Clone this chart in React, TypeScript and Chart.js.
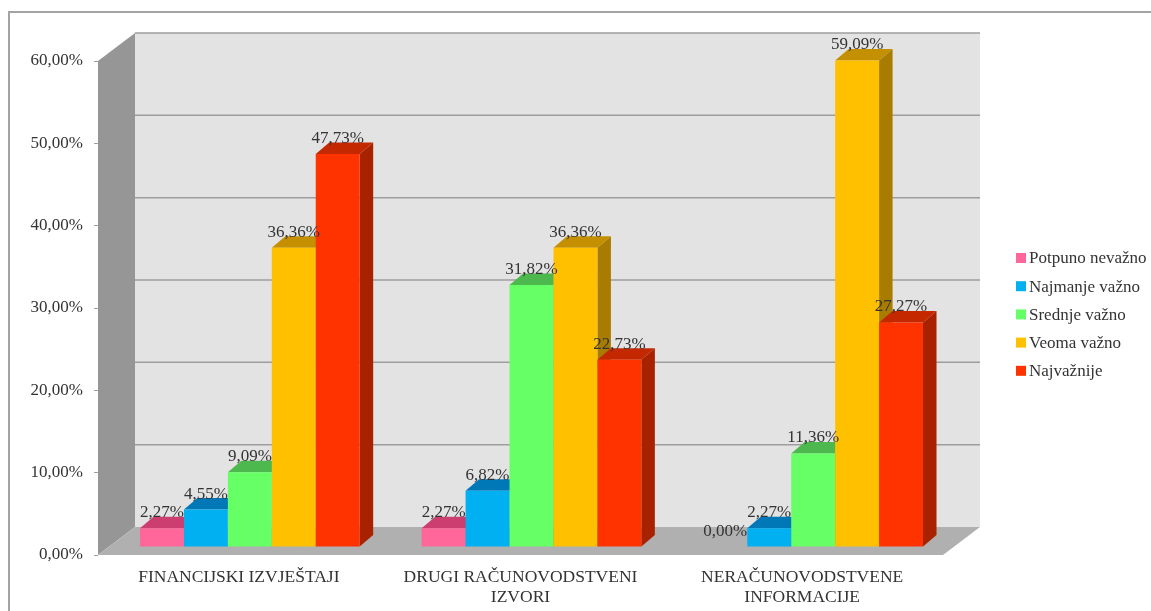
import React, { useEffect, useRef } from "react";
import { Chart, registerables } from "chart.js";

Chart.register(...registerables);

const categories: (string | string[])[] = [
  "FINANCIJSKI IZVJEŠTAJI",
  ["DRUGI RAČUNOVODSTVENI", "IZVORI"],
  ["NERAČUNOVODSTVENE", "INFORMACIJE"],
];
const seriesNames = ["Potpuno nevažno", "Najmanje važno", "Srednje važno", "Veoma važno", "Najvažnije"];
const potpunoNevazno = [2.27, 2.27, 0];
const najmanjeVazno = [4.55, 6.82, 2.27];
const srednjeVazno = [9.09, 31.82, 11.36];
const veomaVazno = [36.36, 36.36, 59.09];
const najvaznije = [47.73, 22.73, 27.27];
const seriesValues = [potpunoNevazno, najmanjeVazno, srednjeVazno, veomaVazno, najvaznije];
const frontColors = ["#FF6699", "#00B0F0", "#66FF66", "#FFC000", "#FF3300"];
const topColors = ["#CC3D70", "#0078B8", "#4DB84D", "#C49000", "#C42800"];
const sideColors = ["#A83060", "#006090", "#3C9A3C", "#A87C00", "#A82200"];
const yTicks = { min: 0, max: 60, step: 10 };

const FONT = '"Liberation Serif", "Times New Roman", serif';
const TEXT = "#333333";
const fmt = (v: number) => v.toFixed(2).replace(".", ",") + "%";

const wallDepth = { dx: 37, dy: -28 };
const barShift = { dx: 11, dy: -8 };
const barDepth = { dx: 13.5, dy: -11.5 };

function poly(ctx: CanvasRenderingContext2D, pts: number[][], fill: string) {
  ctx.beginPath();
  pts.forEach(([x, y], i) => (i ? ctx.lineTo(x, y) : ctx.moveTo(x, y)));
  ctx.closePath();
  ctx.fillStyle = fill;
  ctx.fill();
}

const scene3d = {
  id: "scene3d",
  beforeDraw(chart: any) {
    const { ctx, chartArea: a, scales } = chart;
    const y = scales.y;
    const { dx, dy } = wallDepth;
    ctx.save();
    // outer frame (left and top only are visible in the picture)
    ctx.strokeStyle = "#A3A3A3";
    ctx.lineWidth = 2;
    ctx.beginPath();
    ctx.moveTo(9, chart.height);
    ctx.lineTo(9, 12);
    ctx.lineTo(chart.width, 12);
    ctx.stroke();
    // back wall
    poly(ctx, [[a.left + dx, a.top + dy], [a.right + dx, a.top + dy], [a.right + dx, a.bottom + dy], [a.left + dx, a.bottom + dy]], "#E3E3E3");
    // gridlines on the back wall, one per tick
    ctx.strokeStyle = "#9E9E9E";
    ctx.lineWidth = 1.5;
    y.ticks.forEach((t: any) => {
      if (t.value === 0) return;
      const py = y.getPixelForValue(t.value) + dy;
      ctx.beginPath();
      ctx.moveTo(a.left + dx, py);
      ctx.lineTo(a.right + dx, py);
      ctx.stroke();
    });
    // left wall
    poly(ctx, [[a.left, a.top], [a.left + dx, a.top + dy], [a.left + dx, a.bottom + dy], [a.left, a.bottom]], "#969696");
    // floor
    poly(ctx, [[a.left, a.bottom], [a.left + dx, a.bottom + dy], [a.right + dx, a.bottom + dy], [a.right, a.bottom]], "#B0B0B0");
    ctx.restore();
  },
  // Bars are painted series by series from left to right, so each bar hides
  // the part of its left neighbour's depth that lies behind it.
  beforeDatasetsDraw(chart: any) {
    const { ctx } = chart;
    const { dx, dy } = barDepth;
    ctx.save();
    ctx.translate(barShift.dx, barShift.dy);
    chart.data.datasets.forEach((_: any, i: number) => {
      const meta = chart.getDatasetMeta(i);
      meta.data.forEach((bar: any) => {
        const l = bar.x - bar.width / 2;
        const r = bar.x + bar.width / 2;
        const t = bar.y;
        const b = bar.base;
        if (Math.abs(b - t) < 0.5) return;
        poly(ctx, [[r, t], [r + dx, t + dy], [r + dx, b + dy], [r, b]], sideColors[i]);
        poly(ctx, [[l, t], [l + dx, t + dy], [r + dx, t + dy], [r, t]], topColors[i]);
      });
      meta.controller.draw();
    });
    ctx.restore();
    return false;
  },
  afterDraw(chart: any) {
    const { ctx } = chart;
    ctx.save();
    ctx.font = `17px ${FONT}`;
    ctx.fillStyle = TEXT;
    ctx.textAlign = "center";
    ctx.textBaseline = "middle";
    chart.data.datasets.forEach((ds: any, i: number) => {
      chart.getDatasetMeta(i).data.forEach((bar: any, j: number) => {
        ctx.fillText(fmt(ds.data[j]), bar.x + barShift.dx, bar.y + barShift.dy - 15.5);
      });
    });
    // legend
    ctx.textAlign = "left";
    chart.data.datasets.forEach((ds: any, i: number) => {
      const cy = 258 + i * 28.2;
      ctx.fillStyle = ds.backgroundColor;
      ctx.fillRect(1016, cy - 5, 10, 10);
      ctx.fillStyle = TEXT;
      ctx.fillText(ds.label, 1029, cy + 1);
    });
    ctx.restore();
  },
};

export default function App() {
  const ref = useRef<HTMLCanvasElement | null>(null);
  useEffect(() => {
    const chart = new Chart(ref.current!, {
      type: "bar",
      data: {
        labels: categories as any,
        datasets: seriesValues.map((data, i) => ({
          label: seriesNames[i],
          data,
          backgroundColor: frontColors[i],
          borderWidth: 0,
          clip: false as any,
          categoryPercentage: 0.78,
          barPercentage: 1,
        })),
      },
      options: {
        responsive: false,
        animation: false,
        events: [],
        layout: { padding: { left: 0, top: 61, right: 208, bottom: 0 } },
        plugins: { legend: { display: false }, tooltip: { enabled: false }, title: { display: false } },
        scales: {
          x: {
            grid: { display: false },
            border: { display: false },
            afterFit: (s: any) => { s.height = 611 - 555; },
            ticks: { color: TEXT, font: { family: FONT, size: 17.5, lineHeight: 1.14 }, padding: 4, maxRotation: 0, autoSkip: false },
          },
          y: {
            min: yTicks.min,
            max: yTicks.max,
            afterFit: (s: any) => { s.width = 98; },
            grid: { drawOnChartArea: false, tickLength: 4, color: "#9E9E9E" },
            border: { display: false },
            ticks: {
              stepSize: yTicks.step,
              color: TEXT,
              font: { family: FONT, size: 17 },
              padding: 11,
              callback: (v: any) => fmt(Number(v)),
            },
          },
        },
      },
      plugins: [scene3d as any],
    });
    return () => chart.destroy();
  }, []);
  return (
    <div style={{ position: "fixed", left: 0, top: 0, width: 1151, height: 611, background: "#fff" }}>
      <canvas ref={ref} width={1151} height={611} style={{ display: "block", filter: "blur(0.5px)" }} />
    </div>
  );
}
